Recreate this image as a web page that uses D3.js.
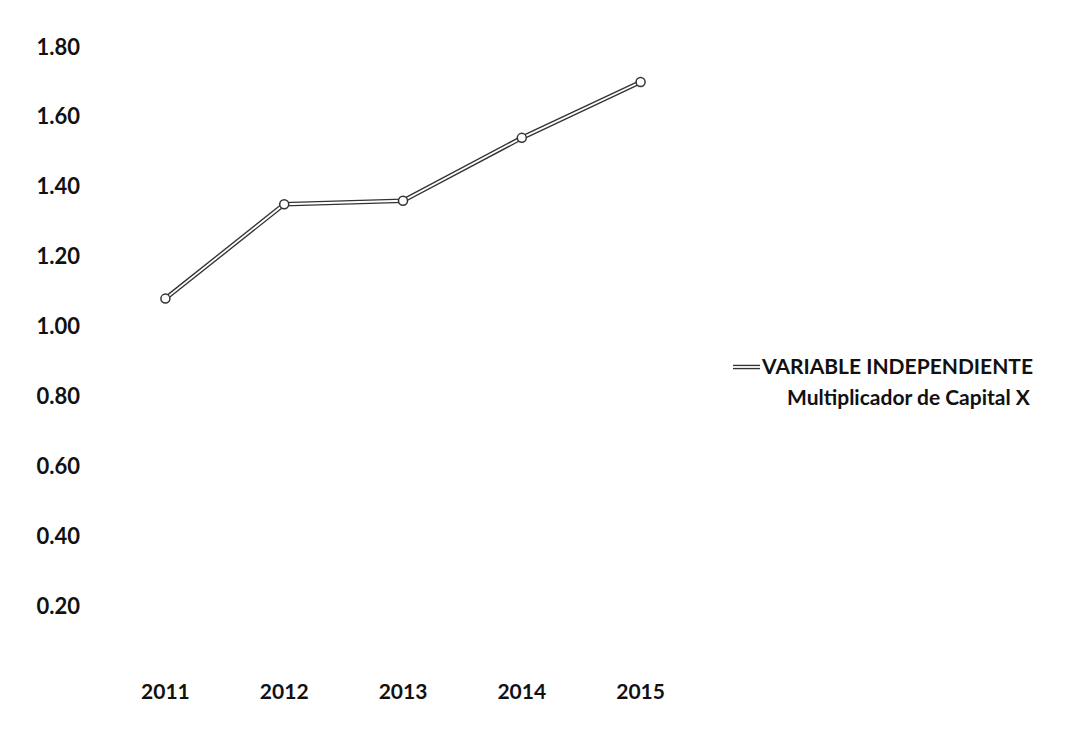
<!DOCTYPE html>
<html><head><meta charset="utf-8">
<script src="https://cdn.jsdelivr.net/npm/d3@7/dist/d3.min.js"></script>
<style>html,body{margin:0;padding:0;background:#fff;}svg{display:block;}</style>
</head><body>
<script>
const years = ["2011","2012","2013","2014","2015"];
const values = [1.08, 1.35, 1.36, 1.54, 1.70];
const yTicks = [0.20,0.40,0.60,0.80,1.00,1.20,1.40,1.60,1.80];
const legendLines = ["VARIABLE INDEPENDIENTE","Multiplicador de Capital X"];

const W=1075,H=734;
const svg=d3.select("body").append("svg").attr("width",W).attr("height",H);
const x=d3.scaleBand().domain(years).range([106,700]);
const y=d3.scaleLinear().domain([0,1.8]).range([676,47]);
const font="Lato, 'Open Sans', sans-serif";

const yAxis=d3.axisLeft(y).tickValues(yTicks).tickFormat(d3.format(".2f")).tickSize(0).tickPadding(0);
const gy=svg.append("g").attr("transform","translate(80,0)").call(yAxis);
gy.select(".domain").remove();
gy.selectAll("text").attr("font-family",font).attr("font-size",22).attr("font-weight",700).attr("fill","#111");

const xAxis=d3.axisBottom(x).tickSize(0).tickPadding(0);
const gx=svg.append("g").attr("transform","translate(0,684)").call(xAxis);
gx.select(".domain").remove();
gx.selectAll("text").attr("font-family",font).attr("font-size",21).attr("font-weight",700).attr("fill","#111");

const pts=years.map((d,i)=>[x(d)+x.bandwidth()/2,y(values[i])]);
const line=d3.line();
svg.append("path").attr("d",line(pts)).attr("fill","none").attr("stroke","#333").attr("stroke-width",4.5);
svg.append("path").attr("d",line(pts)).attr("fill","none").attr("stroke","#fff").attr("stroke-width",1.8);
svg.selectAll("circle.m").data(pts).join("circle").attr("class","m")
  .attr("cx",d=>d[0]).attr("cy",d=>d[1]).attr("r",4.5)
  .attr("fill","#fff").attr("stroke","#333").attr("stroke-width",1.5);

// legend
const lg=svg.append("g");
lg.append("line").attr("x1",733).attr("x2",760).attr("y1",367).attr("y2",367).attr("stroke","#333").attr("stroke-width",4.5);
lg.append("line").attr("x1",733).attr("x2",760).attr("y1",367).attr("y2",367).attr("stroke","#fff").attr("stroke-width",1.8);
lg.selectAll("text").data(legendLines).join("text")
  .attr("x",(d,i)=>i===0?762:787).attr("y",(d,i)=>367+i*31).attr("dy","0.35em")
  .attr("font-family",font).attr("font-size",21).attr("font-weight",700).attr("fill","#111")
  .text(d=>d);
</script>
</body></html>
